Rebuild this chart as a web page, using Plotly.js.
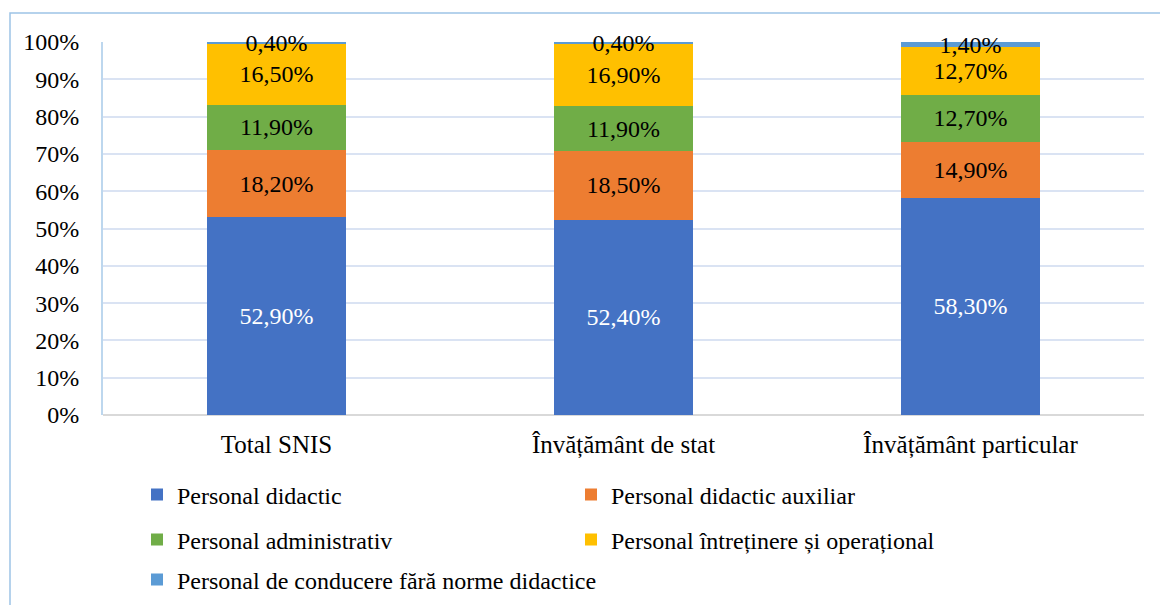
<!DOCTYPE html>
<html>
<head>
<meta charset="utf-8">
<script src="https://cdn.plot.ly/plotly-3.0.1.min.js"></script>
<style>html,body{margin:0;padding:0;background:#fff;}#chart{width:1160px;height:605px;}</style>
</head>
<body>
<div id="chart"></div>
<script>
const categories = ["Total SNIS", "Învățământ de stat", "Învățământ particular"];
const seriesNames = [
  "Personal didactic",
  "Personal didactic auxiliar",
  "Personal administrativ",
  "Personal întreținere și operațional",
  "Personal de conducere fără norme didactice"
];
const didactic = [52.9, 52.4, 58.3];
const auxiliar = [18.2, 18.5, 14.9];
const administrativ = [11.9, 11.9, 12.7];
const intretinere = [16.5, 16.9, 12.7];
const conducere = [0.4, 0.4, 1.4];
const yTickVals = [0, 10, 20, 30, 40, 50, 60, 70, 80, 90, 100];
const yTickText = ["0%", "10%", "20%", "30%", "40%", "50%", "60%", "70%", "80%", "90%", "100%"];

const seriesValues = [didactic, auxiliar, administrativ, intretinere, conducere];
const colors = ["#4472C4", "#ED7D31", "#70AD47", "#FFC000", "#5B9BD5"];
const textColors = ["#ffffff", "#000000", "#000000", "#000000", "#000000"];
const legendIds = ["legend", "legend", "legend2", "legend2", "legend3"];
const serifFamily = "Times New Roman";

function fmt(v) { return v.toFixed(2).replace(".", ",") + "%"; }

const traces = seriesValues.map((vals, i) => ({
  type: "bar",
  name: seriesNames[i],
  x: categories,
  y: vals,
  text: vals.map(fmt),
  textposition: "inside",
  insidetextanchor: "middle",
  constraintext: "none",
  cliponaxis: false,
  textangle: 0,
  textfont: {family: serifFamily, size: 24, color: textColors[i]},
  marker: {color: colors[i], line: {width: 0}},
  legend: legendIds[i],
  hoverinfo: "name+text"
}));

const legendBase = {
  orientation: "h",
  traceorder: "normal",
  xref: "container", yref: "container",
  xanchor: "left", yanchor: "middle",
  entrywidth: 389, entrywidthmode: "pixels",
  font: {family: serifFamily, size: 24, color: "#000"},
  bgcolor: "rgba(0,0,0,0)",
  itemwidth: 30,
  tracegroupgap: 0
};
function ly(py) { return (605 - py) / 605; }
const lx = 137 / 1160;

const layout = {
  width: 1160, height: 605,
  margin: {l: 103, r: 16, t: 42, b: 190, autoexpand: false},
  paper_bgcolor: "#ffffff",
  plot_bgcolor: "#ffffff",
  barmode: "stack",
  barnorm: "percent",
  bargap: 0.6,
  uniformtext: {mode: "show", minsize: 24},
  font: {family: serifFamily, size: 24, color: "#000"},
  xaxis: {
    type: "category",
    showgrid: false,
    showline: false,
    ticks: "",
    automargin: false,
    tickfont: {family: serifFamily, size: 25, color: "#000"},
    ticklabelstandoff: 12
  },
  yaxis: {
    range: [0, 100],
    tickvals: yTickVals,
    ticktext: yTickText,
    automargin: false,
    showgrid: true,
    gridcolor: "#DAE3F3",
    gridwidth: 1.5,
    zeroline: true,
    zerolinecolor: "#D9D9D9",
    zerolinewidth: 2,
    showline: true,
    linecolor: "#BDD7EE",
    linewidth: 2,
    ticks: "",
    tickfont: {family: serifFamily, size: 24, color: "#000"},
    ticklabelstandoff: 17
  },
  showlegend: true,
  legend: Object.assign({}, legendBase, {x: lx, y: ly(495)}),
  legend2: Object.assign({}, legendBase, {x: lx, y: ly(540)}),
  legend3: Object.assign({}, legendBase, {x: lx, y: ly(580), entrywidth: 600}),
  shapes: [{
    type: "rect", xref: "paper", yref: "paper",
    x0: (10 - 103) / 1041, x1: (1175 - 103) / 1041,
    y0: (415 - 620) / 373, y1: (415 - 13) / 373,
    line: {color: "#9DC3E6", width: 1.5},
    fillcolor: "rgba(0,0,0,0)",
    layer: "below"
  }]
};

Plotly.newPlot("chart", traces, layout, {displayModeBar: false});
</script>
</body>
</html>
